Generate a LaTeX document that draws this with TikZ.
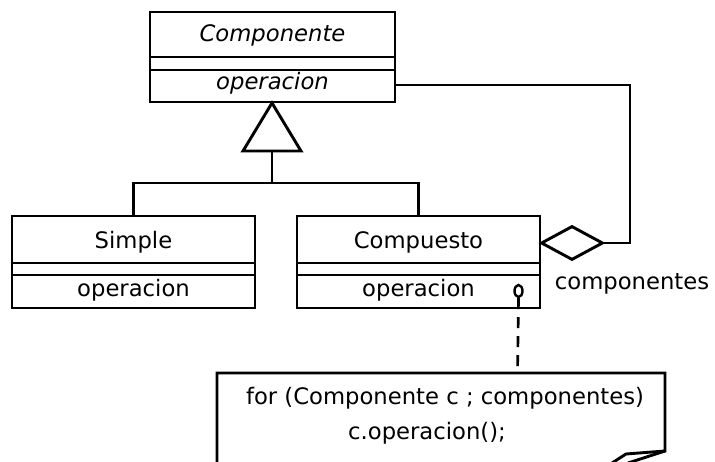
\documentclass[tikz,border=0pt]{standalone}
\usepackage{fontspec}
\setmainfont{DejaVu Sans}
\usetikzlibrary{shapes.geometric}
\begin{document}
\begin{tikzpicture}[x=1pt,y=-1pt,
  line width=2.9pt,
  classbox/.style={draw, rectangle, inner sep=0pt, minimum width=243pt, minimum height=92pt},
  lbl/.style={inner sep=0pt, font=\fontsize{22.7}{26}\selectfont},
  ilbl/.style={inner sep=0pt, font=\fontsize{22.7}{26}\selectfont\itshape},
  dashline/.style={dash pattern=on 11pt off 8pt, line width=2.7pt}]
\useasboundingbox (0,0) rectangle (715,462);
% classes
\node[classbox, minimum width=245pt, minimum height=90pt] (comp) at (272.5,57) {};
\node[classbox] (simple) at (133.5,262) {};
\node[classbox] (compu) at (418.5,262) {};
% dividers
\draw (comp.west) -- (comp.east);
\draw ([yshift=-13pt]comp.west) -- ([yshift=-13pt]comp.east);
\draw ([yshift=-1pt]simple.west) -- ([yshift=-1pt]simple.east);
\draw ([yshift=-13pt]simple.west) -- ([yshift=-13pt]simple.east);
\draw ([yshift=-1pt]compu.west) -- ([yshift=-1pt]compu.east);
\draw ([yshift=-13pt]compu.west) -- ([yshift=-13pt]compu.east);
% texts
\node[ilbl] (compname) at (272.5,35) {Componente};
\node[ilbl] (compop) at (272.5,83) {operacion};
\node[lbl] (simplename) at (133.5,242) {Simple};
\node[lbl] (simpleop) at (133.5,290) {operacion};
\node[lbl] (compuname) at (418.5,242) {Compuesto};
\node[lbl] (compuop) at (418.5,290) {operacion};
% generalization
\coordinate (apex) at (272,103);
\coordinate (tbl) at (243,151);
\coordinate (tbr) at (301,151);
\coordinate (tb) at (272,151);
\coordinate (junc) at (272,183);
\draw[line join=miter] (apex) -- (tbl) -- (tbr) -- cycle;
\draw (tb) -- (junc);
\draw (junc) -| (simple.north);
\draw (junc) -| (compu.north);
% aggregation
\node[draw, diamond, inner sep=0pt, minimum width=62pt, minimum height=34pt] (dia) at (572,243) {};
\coordinate (aggcorner) at (630,85);
\draw ([yshift=-28pt]comp.east) -- (aggcorner) |- (dia.east);
\node[lbl] (rolename) at (632,284) {componentes};
% note
\node[draw, ellipse, inner sep=0pt, minimum width=8pt, minimum height=12pt, line width=2.4pt] (circ) at (518.5,291) {};
\coordinate (ntl) at (217,373);
\coordinate (ntr) at (665,373);
\coordinate (nbr) at (665,451);
\coordinate (nbl) at (217,470);
\coordinate (ntop) at (517.5,373);
\draw[line join=miter] (nbl) -- (ntl) -- (ntr) -- (nbr) -- (626,454) -- (612,463);
\draw (nbr) -- (628,463);
\draw[dashline] (circ.south) -- (ntop);
\node[lbl] (note1) at (445,398) {for (Componente c ; componentes)};
\node[lbl] (note2) at (427,433) {c.operacion();};
\end{tikzpicture}
\end{document}
